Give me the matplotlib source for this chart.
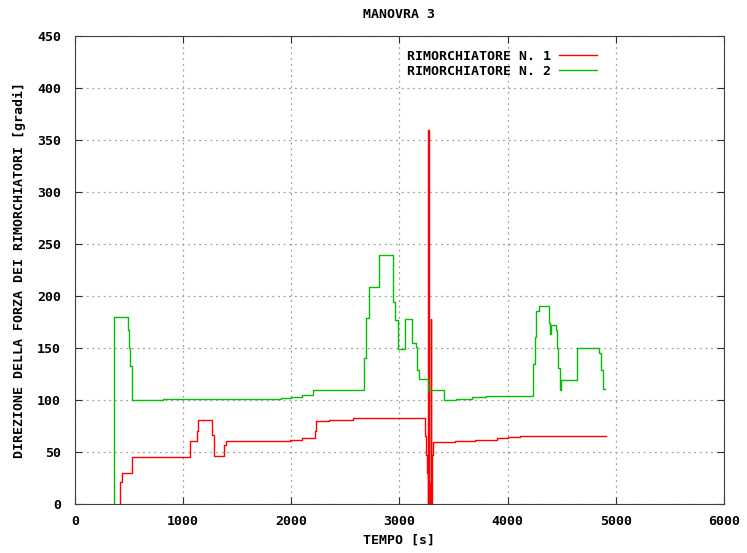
import matplotlib
matplotlib.use('Agg')
import matplotlib.pyplot as plt

# tempo [s] / direzione [gradi] (step data)
t1 = [416, 418, 430, 524, 1063, 1124, 1135, 1269, 1285, 1380, 1400, 1876, 1987,
      2100, 2218, 2230, 2350, 2566, 3235, 3245, 3255, 3262, 3268, 3272, 3278,
      3283, 3288, 3292, 3297, 3310, 3512, 3697, 3900, 4000, 4110, 4907]
v1 = [0, 21.5, 30, 45, 60.5, 70.5, 80.8, 66, 46, 57, 60.5, 61, 62,
      63, 70, 80, 81, 83, 65, 47, 30, 0, 360, 0, 20,
      0, 178, 0, 47, 60, 61, 62, 63, 64, 65, 65]

t2 = [360, 362, 493, 503, 513, 530, 816, 1900, 2000, 2100, 2200,
      2671, 2690, 2715, 2815, 2942, 2960, 2985, 3050, 3111, 3150, 3165, 3180,
      3265, 3410, 3521, 3666, 3800, 4230, 4250, 4265, 4290, 4384, 4395, 4405,
      4445, 4460, 4470, 4480, 4488, 4495, 4643, 4845, 4860, 4880, 4904]
v2 = [0, 180, 167, 150, 133, 100, 101, 102, 103, 105, 110,
      140, 179, 209, 239, 194, 177, 149, 178, 155, 151, 129, 120,
      110, 100, 101, 103, 104, 135, 161, 186, 190, 174, 163, 172,
      167, 150, 131, 119, 110, 119, 150, 145, 129, 111, 111]

plt.rcParams['font.family'] = 'DejaVu Sans Mono'
plt.rcParams['font.weight'] = 'bold'
plt.rcParams['font.size'] = 9.5

fig = plt.figure(figsize=(7.47, 5.53), dpi=100)
ax = fig.add_axes([0.1004, 0.0886, 0.8688, 0.8463])

ax.plot(t1, v1, drawstyle='steps-post', color='#ff0000', lw=1, label='RIMORCHIATORE N. 1')
ax.plot(t2, v2, drawstyle='steps-post', color='#00c000', lw=1, label='RIMORCHIATORE N. 2')

ax.set_xlim(0, 6000)
ax.set_ylim(0, 450)
ax.set_xticks(range(0, 6001, 1000))
ax.set_yticks(range(0, 451, 50))
ax.grid(True, color='#a0a0a0', linestyle=(0, (1.5, 3)), lw=0.9)
ax.tick_params(direction='in', top=True, right=True, length=5, color='#303030', labelsize=9.5)
ax.tick_params(axis='x', pad=8)
ax.tick_params(axis='y', pad=10)
for s in ax.spines.values():
    s.set_color('#404040')

ax.set_title('MANOVRA 3', fontsize=9.5, fontweight='bold', pad=13)
ax.set_xlabel('TEMPO [s]', fontsize=9.5, fontweight='bold', labelpad=4)
ax.set_ylabel('DIREZIONE DELLA FORZA DEI RIMORCHIATORI [gradi]', fontsize=9.5,
              fontweight='bold', labelpad=8)

ax.legend(loc='upper right', bbox_to_anchor=(0.823, 0.996), frameon=False, markerfirst=False,
          handlelength=2.9, handletextpad=0.6, labelspacing=0.15, fontsize=9.5)

fig.savefig('out.png', dpi=100)
